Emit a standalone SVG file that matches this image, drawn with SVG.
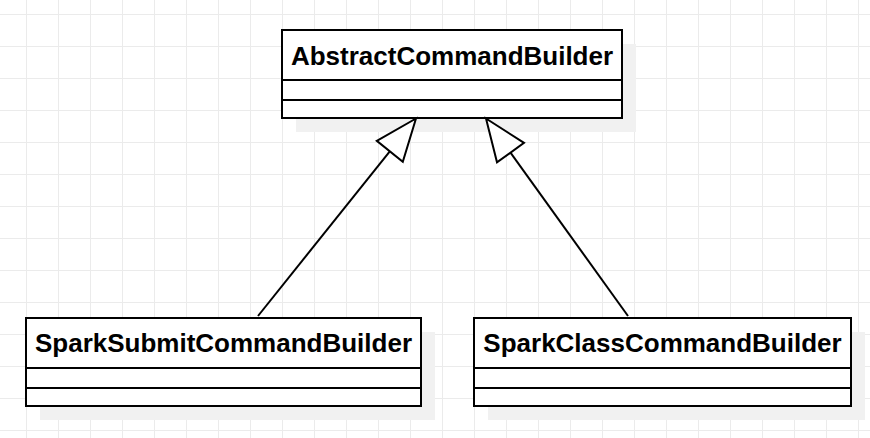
<svg xmlns="http://www.w3.org/2000/svg" width="870" height="438" viewBox="0 0 870 438">
<defs>
<pattern id="grid" x="26" y="14" width="32" height="32" patternUnits="userSpaceOnUse">
<path d="M0.5 0V32M0 0.5H32" fill="none" stroke="#ebebeb" stroke-width="1"/>
</pattern>
</defs>
<style>
.shadow{fill:#f1f1f1;stroke:none}
.box{fill:#ffffff;stroke:#000;stroke-width:2}
.sep{stroke:#000;stroke-width:2;fill:none}
.title{font-family:"Liberation Sans",Arial,sans-serif;font-weight:bold;font-size:26px;fill:#000;text-anchor:middle}
.edge{stroke:#000;stroke-width:2;fill:none}
.head{stroke:#000;stroke-width:2;fill:#ffffff;stroke-linejoin:miter}
</style>
<rect width="870" height="438" fill="#ffffff"/>
<rect width="870" height="438" fill="url(#grid)"/>
<g id="AbstractCommandBuilder">
<rect class="shadow" x="296" y="44" width="340" height="88"/>
<rect class="box" x="282" y="30" width="340" height="88"/>
<line class="sep" x1="282" y1="80" x2="622" y2="80"/>
<line class="sep" x1="282" y1="100" x2="622" y2="100"/>
<text class="title" x="452" y="64.5">AbstractCommandBuilder</text>
</g>
<g id="SparkSubmitCommandBuilder">
<rect class="shadow" x="40" y="332" width="395" height="88"/>
<rect class="box" x="26" y="318" width="395" height="88"/>
<line class="sep" x1="26" y1="368" x2="421" y2="368"/>
<line class="sep" x1="26" y1="388" x2="421" y2="388"/>
<text class="title" x="223.5" y="352">SparkSubmitCommandBuilder</text>
</g>
<g id="SparkClassCommandBuilder">
<rect class="shadow" x="488" y="332" width="377" height="88"/>
<rect class="box" x="474" y="318" width="377" height="88"/>
<line class="sep" x1="474" y1="368" x2="851" y2="368"/>
<line class="sep" x1="474" y1="388" x2="851" y2="388"/>
<text class="title" x="662.5" y="352">SparkClassCommandBuilder</text>
</g>
<g id="connectors">
<line class="edge" x1="258" y1="316" x2="389.8" y2="151.3"/>
<polygon class="head" points="416,118.5 402.8,161.7 376.8,140.9"/>
<line class="edge" x1="628" y1="316" x2="510.5" y2="152.6"/>
<polygon class="head" points="486,118.5 524,142.9 497,162.3"/>
</g>
</svg>
